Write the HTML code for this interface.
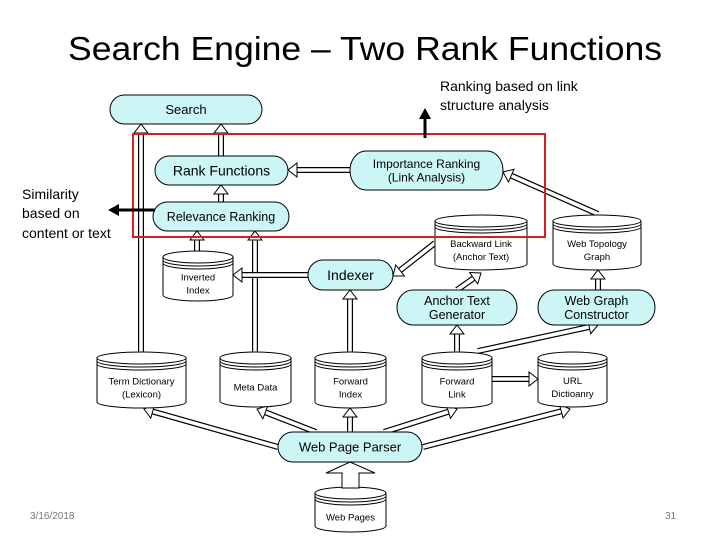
<!DOCTYPE html>
<html><head><meta charset="utf-8"><style>
html,body{margin:0;padding:0;background:#fff;}
svg{display:block;font-family:"Liberation Sans",sans-serif;}
</style></head><body>
<svg id="s" width="720" height="540" viewBox="0 0 720 540" xmlns="http://www.w3.org/2000/svg">
<text x="365" y="60" font-size="33" text-anchor="middle" textLength="594" lengthAdjust="spacingAndGlyphs">Search Engine – Two Rank Functions</text>
<text x="440" y="91" font-size="14">Ranking based on link</text>
<text x="440" y="110" font-size="14">structure analysis</text>
<text x="22" y="199" font-size="14">Similarity</text>
<text x="22" y="218" font-size="14">based on</text>
<text x="22" y="238" font-size="14">content or text</text>
<text x="30" y="519" font-size="10" fill="#777">3/16/2018</text>
<text x="665" y="519" font-size="10" fill="#777">31</text>
<g id="g"></g>
<polygon points="342,488 342,473 326,473 350,462 375,473 359,473 359,488" fill="#fff" stroke="#000" stroke-width="1"/>
<rect x="133" y="134" width="412" height="103" fill="none" stroke="#d02020" stroke-width="2"/>
<line x1="425" y1="138" x2="425" y2="118" stroke="#000" stroke-width="3"/>
<polygon points="419,119 431,119 425,108" fill="#000"/>
<line x1="155" y1="210" x2="118" y2="210" stroke="#000" stroke-width="3"/>
<polygon points="119,204 119,216 108,210" fill="#000"/>
</svg>
<script>
var g=document.getElementById('g'),NS='http://www.w3.org/2000/svg';
function el(t,a,txt){var e=document.createElementNS(NS,t);for(var k in a)e.setAttribute(k,a[k]);if(txt)e.textContent=txt;g.appendChild(e);return e;}
function arrow(x1,y1,x2,y2){
 var dx=x2-x1,dy=y2-y1,L=Math.hypot(dx,dy),ux=dx/L,uy=dy/L,px=-uy,py=ux;
 var bx=x2-ux*9,by=y2-uy*9;
 el('line',{x1:x1,y1:y1,x2:bx,y2:by,stroke:'#000','stroke-width':6});
 el('line',{x1:x1,y1:y1,x2:bx+ux,y2:by+uy,stroke:'#fff','stroke-width':3.6});
 el('polygon',{points:(bx+px*7)+','+(by+py*7)+' '+x2+','+y2+' '+(bx-px*7)+','+(by-py*7),fill:'#fff',stroke:'#000','stroke-width':1});
}
var pills=[],cyls=[];
function pill(x1,y1,x2,y2,lines,fs){pills.push([x1,y1,x2,y2,lines,fs]);}
function cyl(x1,y1,x2,y2,lines,ty){cyls.push([x1,y1,x2,y2,lines,ty]);}
arrow(221,156,221,124);
arrow(221,202,221,185);
arrow(350,170,288,170);
arrow(598,214,503,172);
arrow(141,353,141,124);
arrow(197,252,197,231);
arrow(255,353,255,231);
arrow(308,275,233,275);
arrow(435,243,393,276);
arrow(457,290,481,273);
arrow(598,290,598,270);
arrow(350,353,350,290);
arrow(457,353,457,325);
arrow(478,351,598,325);
arrow(492,379,538,379);
arrow(278,447,144,409);
arrow(316,432,257,409);
arrow(350,432,350,408);
arrow(384,432,457,409);
arrow(423,447,570,409);
pill(110,95,262,124,['Search'],13);
pill(155,156,288,185,['Rank Functions'],14);
pill(153,202,289,231,['Relevance Ranking'],12.5);
pill(350,151,503,190,['Importance Ranking','(Link Analysis)'],12);
pill(308,260,393,290,['Indexer'],14);
pill(397,290,517,325,['Anchor Text','Generator'],12.5);
pill(538,290,655,325,['Web Graph','Constructor'],12.5);
pill(278,432,422,462,['Web Page Parser'],13);
cyl(163,251,233,301,['Inverted','Index'],0);
cyl(435,215,527,270,['Backward Link','(Anchor Text)'],0);
cyl(553,215,641,270,['Web Topology','Graph'],0);
cyl(97,352,186,408,['Term Dictionary','(Lexicon)'],0);
cyl(220,352,291,407,['Meta Data'],0);
cyl(315,352,386,408,['Forward','Index'],0);
cyl(422,352,492,408,['Forward','Link'],0);
cyl(538,352,607,407,['URL','Dictioanry'],0);
cyl(315,487,386,532,['Web Pages'],0);
pills.forEach(function(p){
 var x1=p[0],y1=p[1],x2=p[2],y2=p[3],h=y2-y1;
 el('rect',{x:x1,y:y1,width:x2-x1,height:h,rx:Math.min(h/2,16),ry:h/2,fill:'#ccf6f6',stroke:'#000','stroke-width':1});
 var n=p[4].length,cx=(x1+x2)/2,cy=(y1+y2)/2,lh=p[5]*1.15;
 p[4].forEach(function(t,i){el('text',{x:cx,y:cy+(i-(n-1)/2)*lh+p[5]*0.36,'font-size':p[5],'text-anchor':'middle'},t);});
});
cyls.forEach(function(c){
 var x1=c[0],y1=c[1],x2=c[2],y2=c[3],w=x2-x1,rx=w/2,ry=6,cx=(x1+x2)/2;
 el('path',{d:'M'+x1+','+(y1+ry)+' L'+x1+','+(y2-ry)+' A'+rx+','+ry+' 0 0 0 '+x2+','+(y2-ry)+' L'+x2+','+(y1+ry),fill:'#fff',stroke:'#000','stroke-width':1});
 el('ellipse',{cx:cx,cy:y1+ry,rx:rx,ry:ry,fill:'#fff',stroke:'#000','stroke-width':1});
 [3,6].forEach(function(o){el('path',{d:'M'+x1+','+(y1+ry+o)+' A'+rx+','+ry+' 0 0 0 '+x2+','+(y1+ry+o),fill:'none',stroke:'#000','stroke-width':1});});
 var n=c[4].length,cy=(y1+ry+9+y2)/2;
 c[4].forEach(function(t,i){el('text',{x:cx,y:cy+(i-(n-1)/2)*13+3.5,'font-size':9.5,'text-anchor':'middle'},t);});
});
</script>
</body></html>
